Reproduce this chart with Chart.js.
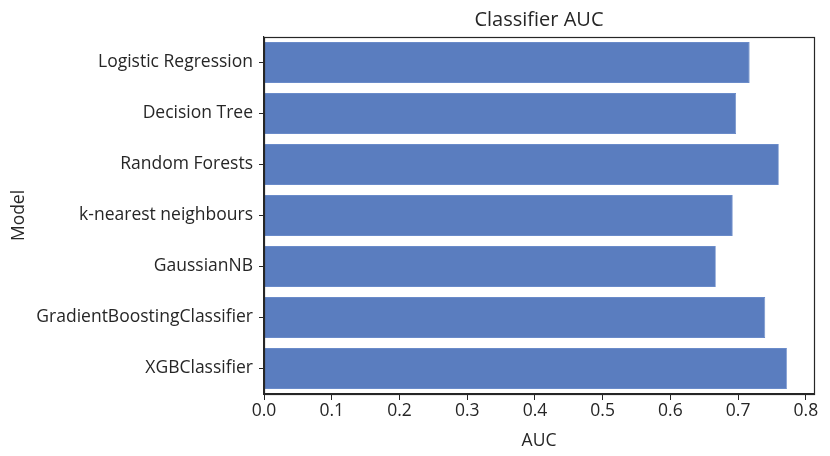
<!DOCTYPE html>
<html>
<head>
<meta charset="utf-8">
<script src="https://cdn.jsdelivr.net/npm/chart.js@4"></script>
<style>
html,body{margin:0;padding:0;background:#fff;}
#wrap{width:830px;height:456px;}
</style>
</head>
<body>
<div id="wrap"><canvas id="c" width="830" height="456"></canvas></div>
<script>
const categories = ["Logistic Regression","Decision Tree","Random Forests","k-nearest neighbours","GaussianNB","GradientBoostingClassifier","XGBClassifier"];
const aucValues = [0.717, 0.697, 0.760, 0.692, 0.667, 0.740, 0.772];
const xTicks = [0.0,0.1,0.2,0.3,0.4,0.5,0.6,0.7,0.8];
const chartTitle = "Classifier AUC";

const FONT = "'Open Sans', sans-serif";
const TXT = "#262626";

const framePlugin = {
  id: 'frame',
  afterDraw(chart) {
    const a = chart.chartArea, ctx = chart.ctx;
    ctx.save();
    ctx.strokeStyle = "#262626";
    ctx.lineWidth = 1.2;
    ctx.strokeRect(Math.round(a.left)+0.5, Math.round(a.top)+0.5, Math.round(a.right-a.left), Math.round(a.bottom-a.top));
    ctx.fillStyle = TXT;
    ctx.font = "20px " + FONT;
    ctx.textAlign = "center";
    ctx.textBaseline = "middle";
    ctx.fillText(chartTitle, (a.left + a.right) / 2, a.top - 17);
    ctx.restore();
  }
};

new Chart(document.getElementById('c'), {
  type: 'bar',
  data: {
    labels: categories,
    datasets: [{
      label: 'AUC',
      data: aucValues,
      backgroundColor: '#5a7dbf',
      borderColor: '#6a8bc9',
      borderWidth: 0.8,
      categoryPercentage: 1.0,
      barPercentage: 0.8
    }]
  },
  options: {
    indexAxis: 'y',
    responsive: false,
    animation: false,
    devicePixelRatio: 1,
    layout: { padding: { top: 37, right: 16, bottom: 0, left: 0 } },
    plugins: {
      legend: { display: false },
      tooltip: { enabled: false },
      title: { display: false }
    },
    scales: {
      x: {
        type: 'linear',
        min: 0,
        max: 0.812,
        afterBuildTicks(scale) { scale.ticks = xTicks.map(v => ({ value: v })); },
        afterFit(scale) { scale.height = 62; },
        ticks: {
          color: TXT,
          font: { family: FONT, size: 17.5 },
          padding: 1,
          maxRotation: 0,
          callback: v => Number(v).toFixed(1)
        },
        grid: { display: true, drawOnChartArea: false, drawTicks: true, tickLength: 6, color: '#262626' },
        border: { display: true, color: '#262626', width: 1.2 },
        title: { display: true, text: 'AUC', color: TXT, font: { family: FONT, size: 17.5 }, padding: { top: 0 } }
      },
      y: {
        afterFit(scale) { scale.width = 264; },
        ticks: { color: TXT, font: { family: FONT, size: 17.5 }, padding: 6 },
        grid: { display: true, offset: false, drawOnChartArea: false, drawTicks: true, tickLength: 5, color: '#262626' },
        border: { display: true, color: '#262626', width: 1.2 },
        title: { display: true, text: 'Model', color: TXT, font: { family: FONT, size: 17.5 }, padding: { bottom: 0, top: 9 } }
      }
    }
  },
  plugins: [framePlugin]
});
</script>
</body>
</html>
